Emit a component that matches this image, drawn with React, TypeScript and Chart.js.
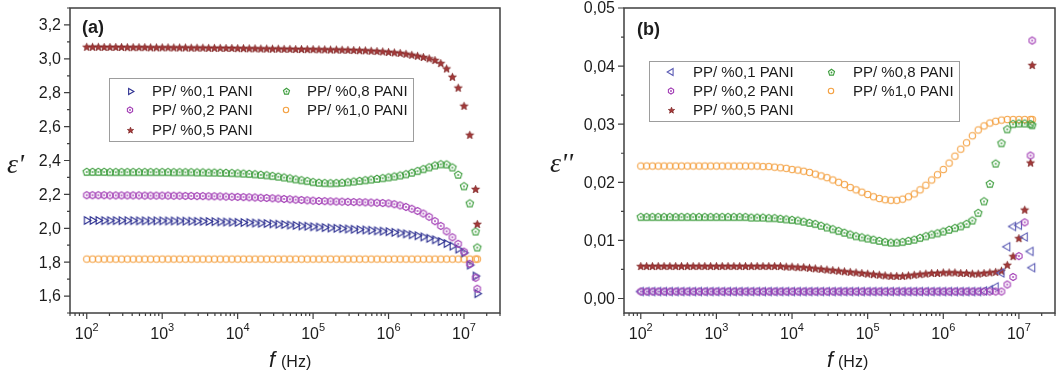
import React, { useEffect, useRef } from 'react';
import { Chart, registerables } from 'chart.js';

Chart.register(...registerables);

const FONT = '"Liberation Sans", Arial, sans-serif';
const SERIF = '"Liberation Serif", "Times New Roman", serif';

// frequency points (Hz)
const freqHz = [
  1e2, 1.194e2, 1.425e2, 1.701e2, 2.031e2, 2.424e2, 2.894e2, 3.455e2, 4.125e2, 4.924e2, 5.878e2, 7.017e2, 8.377e2,
  1e3, 1.194e3, 1.425e3, 1.701e3, 2.031e3, 2.424e3, 2.894e3, 3.455e3, 4.125e3, 4.924e3, 5.878e3, 7.017e3, 8.377e3,
  1e4, 1.194e4, 1.425e4, 1.701e4, 2.031e4, 2.424e4, 2.894e4, 3.455e4, 4.125e4, 4.924e4, 5.878e4, 7.017e4, 8.377e4,
  1e5, 1.194e5, 1.425e5, 1.701e5, 2.031e5, 2.424e5, 2.894e5, 3.455e5, 4.125e5, 4.924e5, 5.878e5, 7.017e5, 8.377e5,
  1e6, 1.194e6, 1.425e6, 1.701e6, 2.031e6, 2.424e6, 2.894e6, 3.455e6, 4.125e6, 4.924e6, 5.878e6, 7.017e6, 8.377e6,
  1e7, 1.194e7, 1.425e7, 1.5e7,
];

const seriesLabels = ['PP/ %0,1 PANI', 'PP/ %0,2 PANI', 'PP/ %0,5 PANI', 'PP/ %0,8 PANI', 'PP/ %1,0 PANI'];

// ---- panel (a): epsilon' ----
const realPani01 = [
  2.046, 2.046, 2.046, 2.045, 2.045, 2.045, 2.045, 2.045, 2.045, 2.044, 2.044, 2.044, 2.044,
  2.044, 2.043, 2.043, 2.043, 2.042, 2.042, 2.041, 2.041, 2.040, 2.039, 2.038, 2.037, 2.036,
  2.035, 2.034, 2.033, 2.031, 2.030, 2.028, 2.026, 2.024, 2.022, 2.019, 2.017, 2.014, 2.012,
  2.009, 2.007, 2.004, 2.002, 2.000, 1.998, 1.996, 1.994, 1.992, 1.990, 1.988, 1.985, 1.983,
  1.980, 1.976, 1.972, 1.967, 1.962, 1.956, 1.949, 1.941, 1.932, 1.922, 1.910, 1.895, 1.877,
  1.855, 1.783, 1.718, 1.614,
];
const realPani02 = [
  2.195, 2.195, 2.195, 2.195, 2.194, 2.194, 2.194, 2.194, 2.194, 2.194, 2.193, 2.193, 2.193,
  2.193, 2.193, 2.192, 2.192, 2.191, 2.191, 2.190, 2.190, 2.189, 2.189, 2.188, 2.187, 2.186,
  2.185, 2.184, 2.183, 2.182, 2.180, 2.179, 2.177, 2.175, 2.173, 2.171, 2.169, 2.167, 2.165,
  2.163, 2.161, 2.160, 2.159, 2.158, 2.157, 2.156, 2.155, 2.154, 2.153, 2.152, 2.151, 2.149,
  2.147, 2.142, 2.135, 2.126, 2.115, 2.102, 2.087, 2.068, 2.042, 2.014, 1.982, 1.947, 1.908,
  1.862, 1.790, 1.708, 1.643,
];
const realPani05 = [
  3.068, 3.068, 3.068, 3.067, 3.067, 3.067, 3.067, 3.066, 3.066, 3.066, 3.066, 3.065, 3.065,
  3.065, 3.065, 3.064, 3.064, 3.064, 3.063, 3.063, 3.063, 3.062, 3.062, 3.062, 3.061, 3.061,
  3.060, 3.060, 3.059, 3.059, 3.058, 3.058, 3.057, 3.057, 3.056, 3.056, 3.055, 3.055, 3.054,
  3.054, 3.053, 3.053, 3.052, 3.052, 3.051, 3.050, 3.049, 3.048, 3.047, 3.045, 3.043, 3.041,
  3.038, 3.035, 3.032, 3.027, 3.021, 3.015, 3.008, 3.000, 2.990, 2.972, 2.940, 2.891, 2.827,
  2.720, 2.549, 2.229, 2.023,
];
const realPani08 = [
  2.332, 2.332, 2.332, 2.332, 2.331, 2.331, 2.331, 2.331, 2.331, 2.331, 2.331, 2.331, 2.331,
  2.331, 2.331, 2.330, 2.330, 2.330, 2.330, 2.329, 2.329, 2.328, 2.328, 2.327, 2.326, 2.325,
  2.324, 2.322, 2.320, 2.318, 2.315, 2.312, 2.308, 2.304, 2.299, 2.294, 2.288, 2.283, 2.278,
  2.272, 2.268, 2.266, 2.265, 2.266, 2.268, 2.271, 2.275, 2.279, 2.283, 2.287, 2.291, 2.295,
  2.300, 2.305, 2.311, 2.318, 2.327, 2.337, 2.348, 2.359, 2.370, 2.377, 2.376, 2.358, 2.315,
  2.247, 2.146, 1.980, 1.886,
];
const realPani10 = [
  1.818, 1.818, 1.818, 1.818, 1.818, 1.818, 1.818, 1.818, 1.818, 1.818, 1.818, 1.818, 1.818,
  1.818, 1.818, 1.818, 1.818, 1.818, 1.818, 1.818, 1.818, 1.818, 1.818, 1.818, 1.818, 1.818,
  1.818, 1.818, 1.818, 1.818, 1.818, 1.818, 1.818, 1.818, 1.818, 1.818, 1.818, 1.818, 1.818,
  1.818, 1.818, 1.818, 1.818, 1.818, 1.818, 1.818, 1.818, 1.818, 1.818, 1.818, 1.818, 1.818,
  1.818, 1.818, 1.818, 1.818, 1.818, 1.818, 1.818, 1.818, 1.818, 1.818, 1.818, 1.818, 1.818,
  1.818, 1.818, 1.818, 1.818,
];

// ---- panel (b): epsilon'' ----
const imagPani01 = [
  0.0012, 0.0012, 0.0012, 0.0012, 0.0012, 0.0012, 0.0012, 0.0012, 0.0012, 0.0012, 0.0012, 0.0012, 0.0012,
  0.0012, 0.0012, 0.0012, 0.0012, 0.0012, 0.0012, 0.0012, 0.0012, 0.0012, 0.0012, 0.0012, 0.0012, 0.0012,
  0.0012, 0.0012, 0.0012, 0.0012, 0.0012, 0.0012, 0.0012, 0.0012, 0.0012, 0.0012, 0.0012, 0.0012, 0.0012,
  0.0012, 0.0012, 0.0012, 0.0012, 0.0012, 0.0012, 0.0012, 0.0012, 0.0012, 0.0012, 0.0012, 0.0012, 0.0012,
  0.0012, 0.0012, 0.0012, 0.0012, 0.0012, 0.0012, 0.0012, 0.0013, 0.0015, 0.0020, 0.0044, 0.0089, 0.0124,
  0.0126, 0.0106, 0.0081, 0.0053,
];
const imagPani02 = [
  0.0012, 0.0012, 0.0012, 0.0012, 0.0012, 0.0012, 0.0012, 0.0012, 0.0012, 0.0012, 0.0012, 0.0012, 0.0012,
  0.0012, 0.0012, 0.0012, 0.0012, 0.0012, 0.0012, 0.0012, 0.0012, 0.0012, 0.0012, 0.0012, 0.0012, 0.0012,
  0.0012, 0.0012, 0.0012, 0.0012, 0.0012, 0.0012, 0.0012, 0.0012, 0.0012, 0.0012, 0.0012, 0.0012, 0.0012,
  0.0012, 0.0012, 0.0012, 0.0012, 0.0012, 0.0012, 0.0012, 0.0012, 0.0012, 0.0012, 0.0012, 0.0012, 0.0012,
  0.0012, 0.0012, 0.0012, 0.0012, 0.0012, 0.0012, 0.0012, 0.0012, 0.0012, 0.0012, 0.0012, 0.0024, 0.0037,
  0.0073, 0.0131, 0.0246, 0.0444,
];
const imagPani05 = [
  0.0055, 0.0055, 0.0055, 0.0055, 0.0055, 0.0055, 0.0055, 0.0055, 0.0055, 0.0055, 0.0055, 0.0055, 0.0055,
  0.0055, 0.0055, 0.0055, 0.0055, 0.0055, 0.0055, 0.0055, 0.0055, 0.0055, 0.0055, 0.0055, 0.0055, 0.0054,
  0.0054, 0.0053, 0.0053, 0.0052, 0.0051, 0.0050, 0.0049, 0.0048, 0.0047, 0.0046, 0.0045, 0.0044, 0.0043,
  0.0042, 0.0041, 0.0040, 0.0039, 0.0038, 0.0038, 0.0038, 0.0039, 0.0040, 0.0041, 0.0042, 0.0043, 0.0043,
  0.0044, 0.0044, 0.0044, 0.0043, 0.0043, 0.0042, 0.0042, 0.0043, 0.0044, 0.0045, 0.0047, 0.0057, 0.0072,
  0.0103, 0.0152, 0.0233, 0.0401,
];
const imagPani08 = [
  0.0140, 0.0140, 0.0140, 0.0140, 0.0140, 0.0140, 0.0140, 0.0140, 0.0140, 0.0140, 0.0140, 0.0140, 0.0140,
  0.0140, 0.0140, 0.0140, 0.0140, 0.0140, 0.0140, 0.0139, 0.0139, 0.0139, 0.0138, 0.0138, 0.0137, 0.0136,
  0.0135, 0.0134, 0.0132, 0.0130, 0.0128, 0.0125, 0.0122, 0.0119, 0.0116, 0.0113, 0.0110, 0.0107, 0.0105,
  0.0103, 0.0101, 0.0099, 0.0097, 0.0096, 0.0096, 0.0097, 0.0099, 0.0101, 0.0104, 0.0107, 0.0110, 0.0112,
  0.0115, 0.0118, 0.0121, 0.0124, 0.0128, 0.0134, 0.0147, 0.0167, 0.0197, 0.0232, 0.0267, 0.0291, 0.0300,
  0.0301, 0.0301, 0.0300, 0.0298,
];
const imagPani10 = [
  0.0228, 0.0228, 0.0228, 0.0228, 0.0228, 0.0228, 0.0228, 0.0228, 0.0228, 0.0228, 0.0228, 0.0228, 0.0228,
  0.0228, 0.0228, 0.0228, 0.0228, 0.0228, 0.0228, 0.0228, 0.0228, 0.0227, 0.0227, 0.0226, 0.0225, 0.0224,
  0.0222, 0.0221, 0.0219, 0.0217, 0.0214, 0.0211, 0.0208, 0.0204, 0.0200, 0.0196, 0.0191, 0.0187, 0.0183,
  0.0179, 0.0175, 0.0172, 0.0170, 0.0169, 0.0169, 0.0171, 0.0175, 0.0180, 0.0187, 0.0195, 0.0204, 0.0213,
  0.0222, 0.0233, 0.0245, 0.0257, 0.0268, 0.0280, 0.0290, 0.0297, 0.0302, 0.0305, 0.0307, 0.0308, 0.0308,
  0.0308, 0.0308, 0.0308, 0.0308,
];

// ---- axes ----
const xMin = 60;
const xMax = 3e7;
const xMajorTicks = [1e2, 1e3, 1e4, 1e5, 1e6, 1e7];
const xMajorExponents = ['2', '3', '4', '5', '6', '7'];

const yTicksA = [1.6, 1.8, 2.0, 2.2, 2.4, 2.6, 2.8, 3.0, 3.2];
const yTickLabelsA = ['1,6', '1,8', '2,0', '2,2', '2,4', '2,6', '2,8', '3,0', '3,2'];
const yMinorA = [1.5, 1.7, 1.9, 2.1, 2.3, 2.5, 2.7, 2.9, 3.1, 3.3];

const yTicksB = [0, 0.01, 0.02, 0.03, 0.04, 0.05];
const yTickLabelsB = ['0,00', '0,01', '0,02', '0,03', '0,04', '0,05'];
const yMinorB = [0.005, 0.015, 0.025, 0.035, 0.045];

const COLORS = {
  triA: '#2d3091',
  triB: '#5b5bb4',
  purple: '#a23db5',
  starFill: '#a63a3a',
  starEdge: '#7c2222',
  green: '#3d9d3d',
  orange: '#f4a142',
};

function makeMarker(kind: string, stroke: string, r: number, fill?: string, dot?: boolean, lw = 1.1) {
  const size = Math.ceil(2 * r + 4);
  const c = document.createElement('canvas');
  c.width = size;
  c.height = size;
  const g = c.getContext('2d') as CanvasRenderingContext2D;
  const cx = size / 2;
  const cy = size / 2;
  g.lineWidth = lw;
  g.strokeStyle = stroke;
  g.beginPath();
  if (kind === 'circle') {
    g.arc(cx, cy, r, 0, Math.PI * 2);
  } else if (kind === 'triR' || kind === 'triL') {
    const s = kind === 'triR' ? 1 : -1;
    g.moveTo(cx + s * r, cy);
    g.lineTo(cx - s * r * 0.55, cy - r * 0.9);
    g.lineTo(cx - s * r * 0.55, cy + r * 0.9);
    g.closePath();
  } else if (kind === 'hex' || kind === 'pent') {
    const n = kind === 'hex' ? 6 : 5;
    for (let i = 0; i < n; i++) {
      const ang = -Math.PI / 2 + (i * 2 * Math.PI) / n;
      const px = cx + r * Math.cos(ang);
      const py = cy + r * Math.sin(ang);
      if (i === 0) g.moveTo(px, py);
      else g.lineTo(px, py);
    }
    g.closePath();
  } else if (kind === 'star') {
    for (let i = 0; i < 10; i++) {
      const rr = i % 2 === 0 ? r : r * 0.42;
      const ang = -Math.PI / 2 + (i * Math.PI) / 5;
      const px = cx + rr * Math.cos(ang);
      const py = cy + rr * Math.sin(ang);
      if (i === 0) g.moveTo(px, py);
      else g.lineTo(px, py);
    }
    g.closePath();
  }
  if (fill) {
    g.fillStyle = fill;
    g.fill();
  }
  g.stroke();
  if (dot) {
    g.beginPath();
    g.arc(cx, cy, 0.9, 0, Math.PI * 2);
    g.fillStyle = stroke;
    g.fill();
  }
  return c;
}

type PanelCfg = {
  yMin: number;
  yMax: number;
  yTicks: number[];
  yLabels: string[];
  yMinor: number[];
  padding: { left: number; right: number; top: number; bottom: number };
  legendBox: [number, number, number, number];
  legendSymX: [number, number];
  legendTextX: [number, number];
  legendRowY: number[];
  panelLabel: string;
  panelLabelPos: [number, number];
  yTitle: string;
  yTitlePos: [number, number];
  fPos: [number, number];
  hzX: number;
};

function buildChart(canvas: HTMLCanvasElement, cfg: PanelCfg, series: number[][], markers: HTMLCanvasElement[], legendMarkers: HTMLCanvasElement[]) {
  const order = [1, 0, 2, 3, 4];
  const datasets = order.map((si) => ({
    label: seriesLabels[si],
    data: series[si].map((v, i) => ({ x: freqHz[i], y: v })),
    pointStyle: markers[si] as any,
    pointRadius: 4,
    showLine: false,
  }));

  const decor = {
    id: 'decor',
    afterDatasetsDraw(chart: any) {
      const ctx: CanvasRenderingContext2D = chart.ctx;
      const a = chart.chartArea;
      const xs = chart.scales.x;
      const ys = chart.scales.y;
      ctx.save();

      // legend
      const [bx, by, bw, bh] = cfg.legendBox;
      ctx.fillStyle = '#ffffff';
      ctx.fillRect(bx, by, bw, bh);
      ctx.strokeStyle = '#9d9d9d';
      ctx.lineWidth = 1;
      ctx.strokeRect(bx + 0.5, by + 0.5, bw, bh);
      ctx.font = `15px ${FONT}`;
      ctx.textAlign = 'left';
      ctx.textBaseline = 'middle';
      for (let i = 0; i < seriesLabels.length; i++) {
        const col = i < 3 ? 0 : 1;
        const row = i < 3 ? i : i - 3;
        const y = cfg.legendRowY[row];
        const m = legendMarkers[i];
        ctx.drawImage(m, Math.round(cfg.legendSymX[col] - m.width / 2), Math.round(y - m.height / 2));
        ctx.fillStyle = '#1c1c1c';
        ctx.fillText(seriesLabels[i], cfg.legendTextX[col], y + 1);
      }

      // frame
      ctx.strokeStyle = '#3f3f3f';
      ctx.lineWidth = 1.5;
      ctx.strokeRect(a.left, a.top, a.right - a.left, a.bottom - a.top);

      // x ticks
      ctx.lineWidth = 1.2;
      ctx.beginPath();
      for (let d = 1; d <= 7; d++) {
        for (let m = 1; m <= 9; m++) {
          const v = m * Math.pow(10, d);
          if (v < xMin - 1e-9 || v > xMax * (1 + 1e-9)) continue;
          const px = xs.getPixelForValue(v);
          const len = m === 1 ? 6 : 3;
          ctx.moveTo(px, a.bottom);
          ctx.lineTo(px, a.bottom + len);
        }
      }
      // y ticks
      for (const v of cfg.yTicks) {
        const py = ys.getPixelForValue(v);
        ctx.moveTo(a.left, py);
        ctx.lineTo(a.left - 6, py);
      }
      for (const v of cfg.yMinor) {
        const py = ys.getPixelForValue(v);
        ctx.moveTo(a.left, py);
        ctx.lineTo(a.left - 3, py);
      }
      ctx.stroke();

      // x tick labels
      ctx.fillStyle = '#1c1c1c';
      ctx.textBaseline = 'alphabetic';
      ctx.textAlign = 'left';
      xMajorTicks.forEach((v, i) => {
        const px = xs.getPixelForValue(v);
        ctx.font = `16px ${FONT}`;
        const w1 = ctx.measureText('10').width;
        ctx.font = `11px ${FONT}`;
        const w2 = ctx.measureText(xMajorExponents[i]).width;
        const x0 = px - (w1 + w2) / 2;
        ctx.font = `16px ${FONT}`;
        ctx.fillText('10', x0, 339);
        ctx.font = `11px ${FONT}`;
        ctx.fillText(xMajorExponents[i], x0 + w1, 331);
      });

      // y tick labels
      ctx.font = `16px ${FONT}`;
      ctx.textAlign = 'right';
      ctx.textBaseline = 'middle';
      cfg.yTicks.forEach((v, i) => {
        const py = ys.getPixelForValue(v);
        ctx.fillText(cfg.yLabels[i], a.left - 9, py + 1);
      });

      // axis titles
      ctx.textAlign = 'left';
      ctx.textBaseline = 'alphabetic';
      ctx.font = `italic 22px ${FONT}`;
      ctx.fillText('f', cfg.fPos[0], cfg.fPos[1]);
      ctx.font = `16px ${FONT}`;
      ctx.fillText('(Hz)', cfg.hzX, cfg.fPos[1]);

      ctx.font = `italic 28px ${SERIF}`;
      ctx.fillText(cfg.yTitle, cfg.yTitlePos[0], cfg.yTitlePos[1]);

      // panel label
      ctx.font = `bold 18px ${FONT}`;
      ctx.fillText(cfg.panelLabel, cfg.panelLabelPos[0], cfg.panelLabelPos[1]);

      ctx.restore();
    },
  };

  return new Chart(canvas, {
    type: 'scatter',
    data: { datasets: datasets as any },
    options: {
      animation: false,
      responsive: false,
      devicePixelRatio: 1,
      events: [],
      layout: { padding: cfg.padding },
      plugins: { legend: { display: false }, tooltip: { enabled: false } },
      scales: {
        x: { type: 'logarithmic', min: xMin, max: xMax, display: false },
        y: { type: 'linear', min: cfg.yMin, max: cfg.yMax, display: false },
      },
    },
    plugins: [decor],
  });
}

export default function App() {
  const refA = useRef<HTMLCanvasElement>(null);
  const refB = useRef<HTMLCanvasElement>(null);

  useEffect(() => {
    const markersA = [
      makeMarker('triR', COLORS.triA, 4.2),
      makeMarker('hex', COLORS.purple, 3.6, undefined, true),
      makeMarker('star', COLORS.starEdge, 4.1, COLORS.starFill, false, 0.8),
      makeMarker('pent', COLORS.green, 3.9, undefined, true),
      makeMarker('circle', COLORS.orange, 3.2),
    ];
    const legendA = [
      makeMarker('triR', COLORS.triA, 3.4),
      makeMarker('hex', COLORS.purple, 3.0, undefined, true),
      makeMarker('star', COLORS.starEdge, 3.3, COLORS.starFill, false, 0.7),
      makeMarker('pent', COLORS.green, 3.2, undefined, true),
      makeMarker('circle', COLORS.orange, 2.7),
    ];
    const markersB = [
      makeMarker('triL', COLORS.triB, 4.6),
      makeMarker('hex', COLORS.purple, 3.6, undefined, true),
      makeMarker('star', COLORS.starEdge, 4.1, COLORS.starFill, false, 0.8),
      makeMarker('pent', COLORS.green, 3.9, undefined, true),
      makeMarker('circle', COLORS.orange, 3.2),
    ];
    const legendB = [
      makeMarker('triL', COLORS.triB, 3.8),
      makeMarker('hex', COLORS.purple, 3.0, undefined, true),
      makeMarker('star', COLORS.starEdge, 3.3, COLORS.starFill, false, 0.7),
      makeMarker('pent', COLORS.green, 3.2, undefined, true),
      makeMarker('circle', COLORS.orange, 2.7),
    ];

    const cfgA: PanelCfg = {
      yMin: 1.5,
      yMax: 3.3,
      yTicks: yTicksA,
      yLabels: yTickLabelsA,
      yMinor: yMinorA,
      padding: { left: 70, right: 30, top: 8, bottom: 68 },
      legendBox: [109, 78, 304, 63],
      legendSymX: [130, 286],
      legendTextX: [152, 307],
      legendRowY: [91, 110, 130],
      panelLabel: '(a)',
      panelLabelPos: [82, 33],
      yTitle: "ε'",
      yTitlePos: [7, 173],
      fPos: [269, 367],
      hzX: 281,
    };
    const cfgB: PanelCfg = {
      yMin: -0.0025,
      yMax: 0.05,
      yTicks: yTicksB,
      yLabels: yTickLabelsB,
      yMinor: yMinorB,
      padding: { left: 94, right: 5, top: 8, bottom: 68 },
      legendBox: [119, 61, 310, 60],
      legendSymX: [141, 301],
      legendTextX: [163, 323],
      legendRowY: [72, 91, 110],
      panelLabel: '(b)',
      panelLabelPos: [107, 35],
      yTitle: "ε''",
      yTitlePos: [20, 172],
      fPos: [297, 367],
      hzX: 308,
    };

    const chartA = buildChart(refA.current as HTMLCanvasElement, cfgA,
      [realPani01, realPani02, realPani05, realPani08, realPani10], markersA, legendA);
    const chartB = buildChart(refB.current as HTMLCanvasElement, cfgB,
      [imagPani01, imagPani02, imagPani05, imagPani08, imagPani10], markersB, legendB);
    return () => {
      chartA.destroy();
      chartB.destroy();
    };
  }, []);

  return (
    <div style={{ position: 'absolute', left: 0, top: 0, width: 1060, height: 381, overflow: 'hidden', background: '#ffffff' }}>
      <canvas ref={refA} width={530} height={381} style={{ position: 'absolute', left: 0, top: 0 }} />
      <canvas ref={refB} width={530} height={381} style={{ position: 'absolute', left: 530, top: 0 }} />
    </div>
  );
}
